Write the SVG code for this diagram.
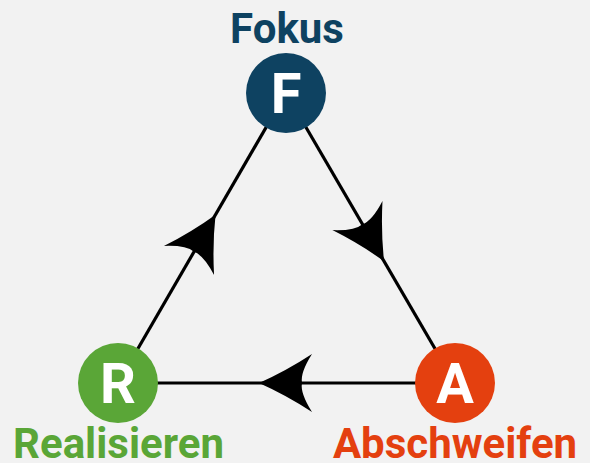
<svg xmlns="http://www.w3.org/2000/svg" width="590" height="463" viewBox="0 0 590 463">
<defs>
<style>
.lbl{font-family:Roboto,"Liberation Sans",sans-serif;font-weight:700;font-size:42px;text-anchor:middle}
.ltr{font-family:Roboto,"Liberation Sans",sans-serif;font-weight:700;font-size:56px;text-anchor:middle;fill:#ffffff}
.edge{stroke:#000;stroke-width:3.2;fill:none}
</style>
<path id="ah" d="M27,0 Q0,-12 -26,-29 Q-14,-10 -16,0 Q-14,10 -26,29 Q0,12 27,0 Z" fill="#000"/>
</defs>
<rect width="590" height="463" fill="#f2f2f2"/>
<g id="connectors">
<line class="edge" x1="286" y1="93" x2="455" y2="383"/>
<line class="edge" x1="455" y1="383" x2="118" y2="383"/>
<line class="edge" x1="118" y1="383" x2="286" y2="93"/>
<use href="#ah" transform="translate(370.5,238) rotate(59.8)"/>
<use href="#ah" transform="translate(286,383) rotate(180)"/>
<use href="#ah" transform="translate(202,238) rotate(-59.9)"/>
</g>
<g id="node-F">
<circle cx="286" cy="93" r="40" fill="#0e4261"/>
<text class="ltr" x="286" y="113">F</text>
<text class="lbl" x="287" y="43" fill="#0e4261">Fokus</text>
</g>
<g id="node-A">
<circle cx="455" cy="383" r="40" fill="#e4400f"/>
<text class="ltr" x="455" y="403">A</text>
<text class="lbl" x="455" y="458" fill="#e4400f">Abschweifen</text>
</g>
<g id="node-R">
<circle cx="118" cy="383" r="40" fill="#5aa637"/>
<text class="ltr" x="118" y="403">R</text>
<text class="lbl" x="118.5" y="458" fill="#5aa637">Realisieren</text>
</g>
</svg>
